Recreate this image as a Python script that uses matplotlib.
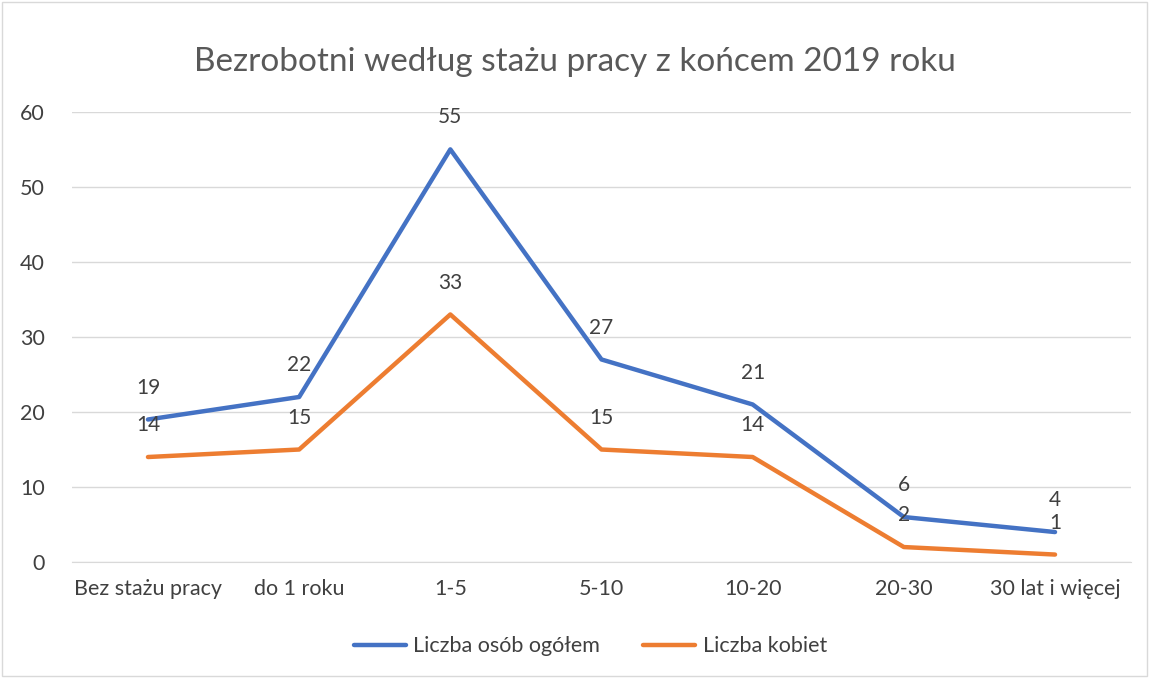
import matplotlib.pyplot as plt
from matplotlib.patches import Rectangle

categories = ["Bez stażu pracy", "do 1 roku", "1-5", "5-10", "10-20", "20-30", "30 lat i więcej"]
total = [19, 22, 55, 27, 21, 6, 4]
women = [14, 15, 33, 15, 14, 2, 1]

blue = "#4472C4"
orange = "#ED7D31"
text_col = "#404040"

plt.rcParams['font.family'] = ['Lato', 'DejaVu Sans']

fig = plt.figure(figsize=(11.49, 6.78), dpi=100)
fig.patches.append(Rectangle((0.002, 0.003), 0.996, 0.994, transform=fig.transFigure,
                             fill=False, edgecolor="#d9d9d9", linewidth=1))
ax = fig.add_axes([0.063, 0.171, 0.921, 0.664])

x = range(len(categories))
ax.plot(x, total, color=blue, linewidth=3.2, label="Liczba osób ogółem", solid_capstyle="round")
ax.plot(x, women, color=orange, linewidth=3.2, label="Liczba kobiet", solid_capstyle="round")

for i in x:
    ax.annotate(str(total[i]), (i, total[i]), xytext=(0, 23), textcoords="offset points",
                ha="center", va="center", fontsize=15, color=text_col)
    ax.annotate(str(women[i]), (i, women[i]), xytext=(0, 23), textcoords="offset points",
                ha="center", va="center", fontsize=15, color=text_col)

ax.set_xlim(-0.5, len(categories) - 0.5)
ax.set_ylim(0, 60)
ax.set_yticks(range(0, 61, 10))
ax.set_xticks(list(x))
ax.set_xticklabels(categories)
ax.grid(axis="y", color="#d9d9d9", linewidth=1)
ax.set_axisbelow(True)
for s in ["top", "right", "left"]:
    ax.spines[s].set_visible(False)
ax.spines["bottom"].set_color("#d9d9d9")
ax.tick_params(axis="both", length=0, labelsize=15.5, colors=text_col, pad=12)
ax.tick_params(axis="y", pad=20)

fig.suptitle("Bezrobotni według stażu pracy z końcem 2019 roku", y=0.93,
             fontsize=24, color="#595959")
fig.legend(loc="center", bbox_to_anchor=(0.514, 0.047), ncol=2, frameon=False,
           fontsize=15.5, labelcolor=text_col, handlelength=2.4, handletextpad=0.35,
           columnspacing=2.0)

fig.savefig("out.png", dpi=100)
